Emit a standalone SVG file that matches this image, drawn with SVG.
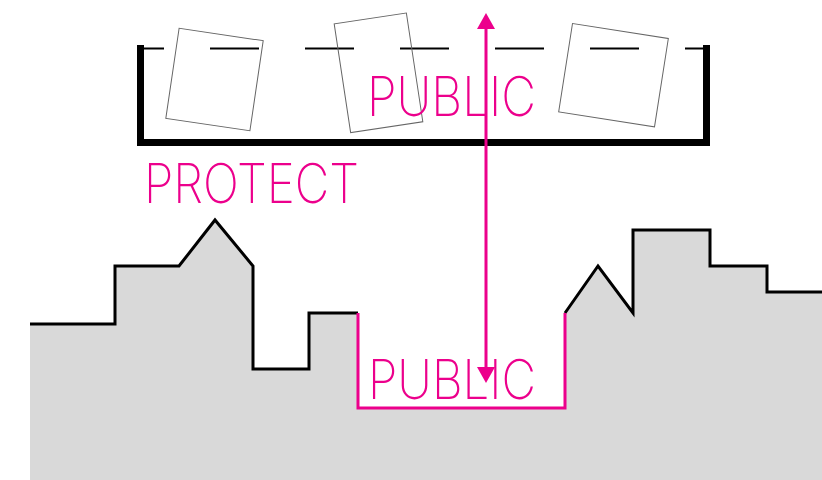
<svg xmlns="http://www.w3.org/2000/svg" width="822" height="480" viewBox="0 0 822 480">
<style>
.lbl{font-family:"Inter","Open Sans","Liberation Sans",sans-serif;font-weight:200;font-size:55px;fill:#ec008c}
.card{fill:none;stroke:#666;stroke-width:1}
.blk{fill:none;stroke:#000;stroke-width:3;stroke-linejoin:miter}
.pnk{fill:none;stroke:#ec008c;stroke-width:3}
</style>
<rect width="822" height="480" fill="#fff"/>
<g id="ground">
<path d="M30,324 L115,324 L115,266 L179,266 L215,220 L253,266 L253,369 L309,369 L309,313 L358,313 L358,408 L565,408 L565,313 L598,266 L633,313 L633,230 L710,230 L710,266 L767,266 L767,292 L822,292 L822,480 L30,480 Z" fill="#d9d9d9"/>
<path class="blk" d="M30,324 L115,324 L115,266 L179,266 L215,220 L253,266 L253,369 L309,369 L309,313 L358,313"/>
<path class="blk" d="M565,313 L598,266 L633,313 L633,230 L710,230 L710,266 L767,266 L767,292 L822,292"/>
<path class="pnk" d="M358,313 L358,408 L565,408 L565,313"/>
</g>
<g id="container">
<line x1="144" y1="48.5" x2="706" y2="48.5" stroke="#000" stroke-width="2" stroke-dasharray="49 46" stroke-dashoffset="29"/>
<path d="M140.5,45 L140.5,142.5 L706.5,142.5 L706.5,45" fill="none" stroke="#000" stroke-width="7"/>
</g>
<g id="cards">
<rect class="card" x="172" y="34" width="85" height="91" transform="rotate(8.4 214.5 79.6)"/>
<rect class="card" x="342" y="17.8" width="73" height="110" transform="rotate(-8.6 378.6 72.8)"/>
<rect class="card" x="565" y="30.5" width="97" height="89.4" transform="rotate(8.9 613.7 75.2)"/>
</g>
<g id="label-public-top"><text class="lbl" x="367" y="115.5" textLength="169" lengthAdjust="spacingAndGlyphs">PUBLIC</text></g>
<g id="label-protect"><text class="lbl" x="144" y="202.5" textLength="215" lengthAdjust="spacingAndGlyphs">PROTECT</text></g>
<g id="label-public-bottom"><text class="lbl" x="368" y="398.5" textLength="168" lengthAdjust="spacingAndGlyphs">PUBLIC</text></g>
<g id="connectors">
<line x1="486" y1="26" x2="486" y2="369" stroke="#ec008c" stroke-width="3"/>
<polygon points="486,13 477,29 495,29" fill="#ec008c"/>
<polygon points="486,383 477,367 495,367" fill="#ec008c"/>
</g>
</svg>
